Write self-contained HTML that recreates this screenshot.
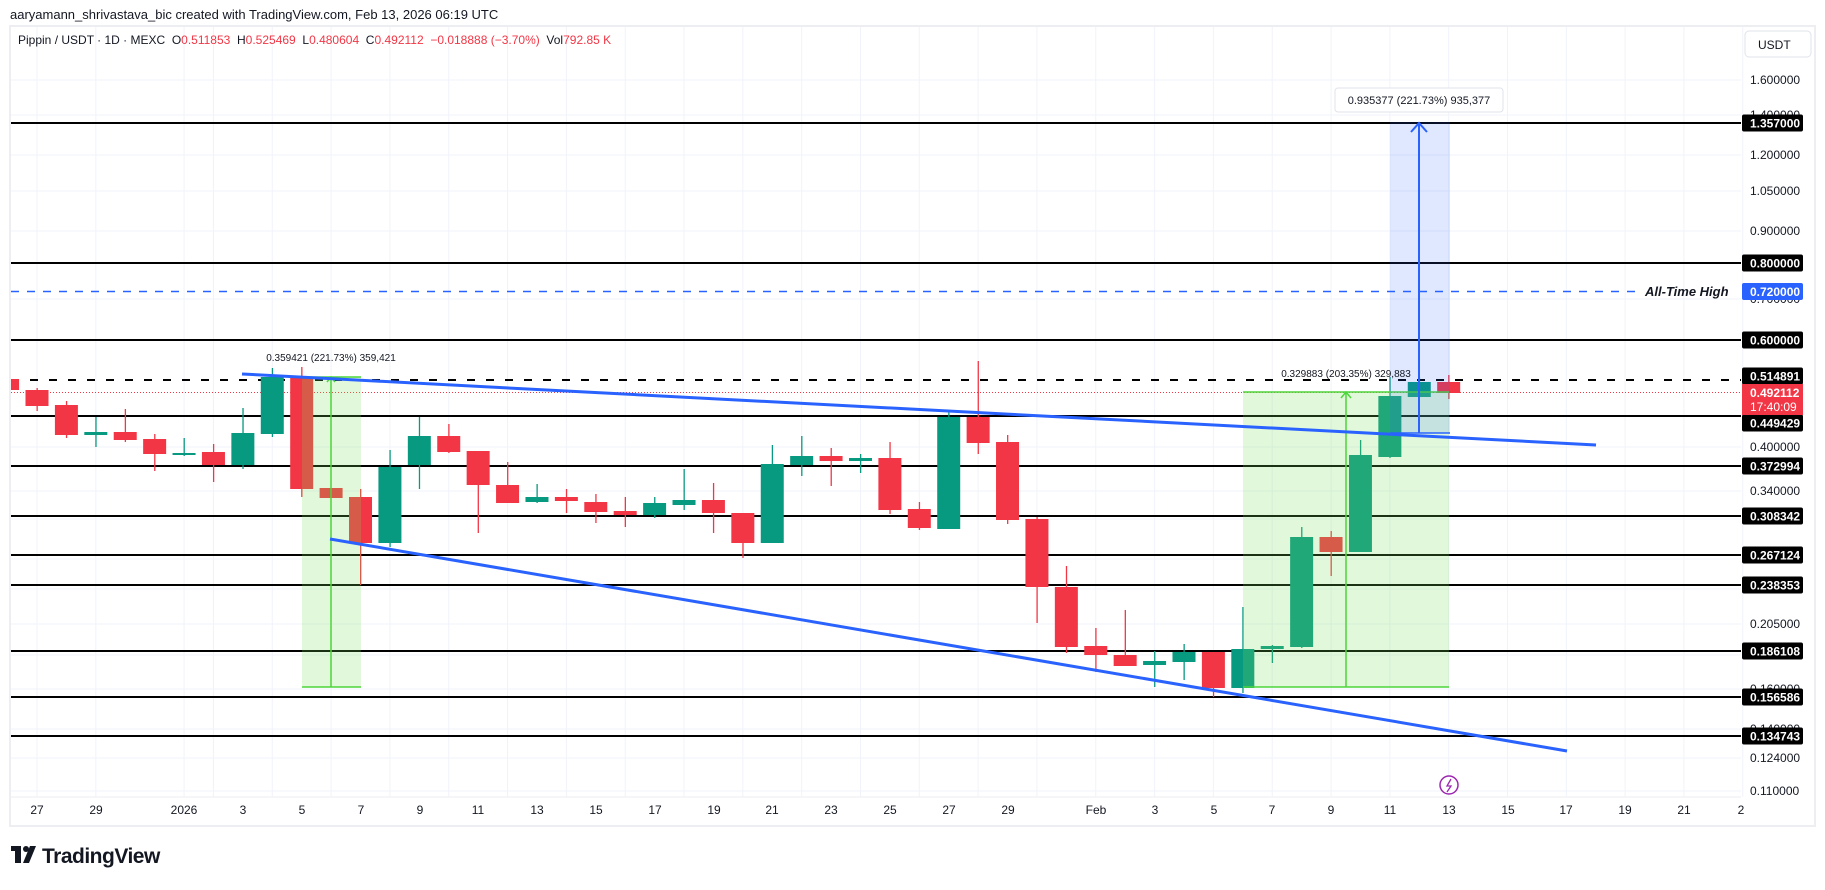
<!DOCTYPE html>
<html><head><meta charset="utf-8"><style>
html,body{margin:0;padding:0;background:#fff;}
body{width:1825px;height:885px;overflow:hidden;font-family:"Liberation Sans",Arial,sans-serif;}
svg text{font-family:"Liberation Sans",Arial,sans-serif;}
</style></head><body>
<svg id="s" width="1825" height="885" xmlns="http://www.w3.org/2000/svg">
<rect width="1825" height="885" fill="#fff"/>
<text x="10" y="19" font-size="13" fill="#131722">aaryamann_shrivastava_bic created with TradingView.com, Feb 13, 2026 06:19 UTC</text>
<rect x="10" y="26" width="1805" height="800" fill="#fff" stroke="#eceef2" stroke-width="2"/>
<defs><clipPath id="cp"><rect x="11" y="27" width="1730" height="770"/></clipPath></defs>
<g id="grid" stroke="#f0f3fa" stroke-width="1"></g>
<g clip-path="url(#cp)">
<g id="hl"></g>
<g id="candles"></g>
<!-- ranges -->
<rect x="302" y="377" width="59" height="310" fill="rgba(120,225,90,0.22)"/>
<line x1="302" y1="687" x2="361" y2="687" stroke="#4cd63a" stroke-width="1.5"/>
<line x1="302" y1="377" x2="361" y2="377" stroke="#4cd63a" stroke-width="1.5"/>
<line x1="331" y1="377" x2="331" y2="687" stroke="#4cd63a" stroke-width="1.5"/>
<polyline points="327,382 331,377 335,382" fill="none" stroke="#4cd63a" stroke-width="1.5"/>
<rect x="1243" y="392" width="206" height="295" fill="rgba(120,225,90,0.22)"/>
<line x1="1243" y1="687" x2="1449" y2="687" stroke="#4cd63a" stroke-width="1.5"/>
<line x1="1243" y1="392" x2="1449" y2="392" stroke="#4cd63a" stroke-width="1.5"/>
<line x1="1346" y1="392" x2="1346" y2="687" stroke="#4cd63a" stroke-width="1.5"/>
<polyline points="1341,398 1346,392 1351,398" fill="none" stroke="#4cd63a" stroke-width="1.5"/>
<rect x="1390" y="122" width="60" height="311" fill="rgba(41,98,255,0.15)"/>
<line x1="1390" y1="433" x2="1450" y2="433" stroke="#2962ff" stroke-width="1.5"/>
<line x1="1419" y1="433" x2="1419" y2="123" stroke="#2962ff" stroke-width="2"/>
<polyline points="1411,132 1419,123 1427,132" fill="none" stroke="#2962ff" stroke-width="2"/>
<!-- trend lines -->
<line x1="242" y1="374" x2="1596" y2="445" stroke="#2962ff" stroke-width="3"/>
<line x1="330" y1="539" x2="1567" y2="751" stroke="#2962ff" stroke-width="3"/>
</g>
<text x="331" y="361" font-size="10" fill="#131722" text-anchor="middle">0.359421 (221.73%) 359,421</text>
<text x="1346" y="377" font-size="10" fill="#131722" text-anchor="middle">0.329883 (203.35%) 329,883</text>
<rect x="1335" y="88" width="168" height="24" rx="3" fill="#fff" stroke="#e0e3eb"/>
<text x="1419" y="104" font-size="11" fill="#131722" text-anchor="middle">0.935377 (221.73%) 935,377</text>
<text x="1645" y="296" font-size="13" font-style="italic" font-weight="bold" fill="#131722">All-Time High</text>
<!-- legend -->
<text x="18" y="44" font-size="12" fill="#131722">Pippin / USDT · 1D · MEXC&#160;&#160;O<tspan fill="#f23645">0.511853</tspan>&#160;&#160;H<tspan fill="#f23645">0.525469</tspan>&#160;&#160;L<tspan fill="#f23645">0.480604</tspan>&#160;&#160;C<tspan fill="#f23645">0.492112&#160;&#160;−0.018888 (−3.70%)</tspan>&#160;&#160;Vol<tspan fill="#f23645">792.85 K</tspan></text>
<!-- price axis -->
<rect x="1745" y="31" width="66" height="26" rx="4" fill="#fff" stroke="#e0e3eb"/>
<text x="1758" y="49" font-size="12" fill="#131722">USDT</text>
<g font-size="12" fill="#131722">
<text x="1750" y="84">1.600000</text>
<text x="1750" y="119">1.400000</text>
<text x="1750" y="159">1.200000</text>
<text x="1750" y="195">1.050000</text>
<text x="1750" y="235">0.900000</text>
<text x="1750" y="303">0.700000</text>
<text x="1750" y="451">0.400000</text>
<text x="1750" y="495">0.340000</text>
<text x="1750" y="523">0.300000</text>
<text x="1750" y="563">0.260000</text>
<text x="1750" y="593">0.230000</text>
<text x="1750" y="628">0.205000</text>
<text x="1750" y="659">0.180000</text>
<text x="1750" y="693">0.160000</text>
<text x="1750" y="733">0.140000</text>
<text x="1750" y="762">0.124000</text>
<text x="1750" y="795">0.110000</text>
</g>
<g id="boxes" font-size="12" font-weight="bold" fill="#fff"></g>
<!-- date axis -->
<g font-size="12" fill="#131722" text-anchor="middle">
<text x="37" y="814">27</text><text x="96" y="814">29</text><text x="184" y="814">2026</text>
<text x="243" y="814">3</text><text x="302" y="814">5</text><text x="361" y="814">7</text>
<text x="420" y="814">9</text><text x="478" y="814">11</text><text x="537" y="814">13</text>
<text x="596" y="814">15</text><text x="655" y="814">17</text><text x="714" y="814">19</text>
<text x="772" y="814">21</text><text x="831" y="814">23</text><text x="890" y="814">25</text>
<text x="949" y="814">27</text><text x="1008" y="814">29</text><text x="1096" y="814">Feb</text>
<text x="1155" y="814">3</text><text x="1214" y="814">5</text><text x="1272" y="814">7</text>
<text x="1331" y="814">9</text><text x="1390" y="814">11</text><text x="1449" y="814">13</text>
<text x="1508" y="814">15</text><text x="1566" y="814">17</text><text x="1625" y="814">19</text>
<text x="1684" y="814">21</text><text x="1741" y="814">2</text>
</g>
<circle cx="1449" cy="785" r="9" fill="#fff" stroke="#9c27b0" stroke-width="1.5"/>
<polyline points="1451,779 1447,786 1451,786 1447,792" fill="none" stroke="#9c27b0" stroke-width="1.3"/>
<!-- logo -->
<g fill="#131722"><rect x="11" y="846" width="10" height="5"/><rect x="15" y="846" width="6" height="17"/><circle cx="26" cy="849" r="3"/><polygon points="30,846 36,846 29,863 23,863"/></g>
<text x="42" y="863" font-size="21" font-weight="bold" fill="#131722" letter-spacing="-0.5">TradingView</text>
</svg>
<script>
var NS="http://www.w3.org/2000/svg";
function el(p,t,a){var e=document.createElementNS(NS,t);for(var k in a)e.setAttribute(k,a[k]);p.appendChild(e);return e;}
function X(d){return 37+29.41*d;}
var grid=document.getElementById('grid');
for(var d=0;d<=58;d+=2){var x=X(d);if(d==4)x=X(5);el(grid,'line',{x1:x,y1:27,x2:x,y2:797});}
[80,115,155,191,231,299,447,491,519,559,589,624,655,689,729,758,791].forEach(function(y){el(grid,'line',{x1:11,y1:y,x2:1741,y2:y});});
el(grid,'line',{x1:11,y1:797,x2:1741,y2:797,stroke:'#eceef2'});
var hl=document.getElementById('hl');
[123,263,340,416,466,516,555,585,651,697,736].forEach(function(y){el(hl,'line',{x1:11,y1:y,x2:1741,y2:y,stroke:'#000','stroke-width':2});});
el(hl,'line',{x1:11,y1:380,x2:1741,y2:380,stroke:'#000','stroke-width':2,'stroke-dasharray':'8 11'});
el(hl,'line',{x1:11,y1:291.5,x2:1640,y2:291.5,stroke:'#2962ff','stroke-width':1.5,'stroke-dasharray':'8 8'});
el(hl,'line',{x1:11,y1:392.5,x2:1741,y2:392.5,stroke:'#f23645','stroke-width':1,'stroke-dasharray':'1 2'});
var C=[[-1,'r',379,390,379,390],[0,'r',390,406,388,411],[1,'r',405,435,401,438],[2,'g',432,435,417,447],[3,'r',432,440,409,442],[4,'r',439,454,434,471],[5,'g',453,454,438,456],[6,'r',452,465,444,482],[7,'g',433,465,408,469],[8,'g',377,434,368,437],[9,'r',377,489,367,497],[10,'r',488,498,488,498],[11,'r',497,543,489,585],[12,'g',467,543,450,547],[13,'g',436,465,417,489],[14,'r',436,452,424,453],[15,'r',451,485,451,533],[16,'r',485,503,462,503],[17,'g',497,502,484,503],[18,'r',497,501,489,513],[19,'r',502,512,494,523],[20,'r',511,515,497,527],[21,'g',503,515,497,518],[22,'g',500,505,469,510],[23,'r',500,513,483,533],[24,'r',513,543,513,558],[25,'g',464,543,445,543],[26,'g',456,465,436,476],[27,'r',456,461,448,486],[28,'g',458,461,454,473],[29,'r',458,510,442,514],[30,'r',509,528,502,530],[31,'g',417,529,412,529],[32,'r',417,443,361,454],[33,'r',442,520,435,524],[34,'r',519,587,517,623],[35,'r',587,647,566,653],[36,'r',646,655,628,672],[37,'r',655,666,610,666],[38,'g',661,665,651,687],[39,'g',652,662,644,680],[40,'r',652,688,652,697],[41,'g',649,688,607,693],[42,'g',646,649,645,663],[43,'g',537,647,527,648],[44,'r',537,552,531,576],[45,'g',455,552,440,552],[46,'g',396,457,377,458],[47,'g',382,397,377,398],[48,'r',382,393,375,399]];
var cg=document.getElementById('candles');
C.forEach(function(c){var x=X(c[0]),col=c[1]=='g'?'#089981':'#f23645';
el(cg,'rect',{x:x-0.5,y:c[4],width:1.3,height:Math.max(1,c[5]-c[4]),fill:col});
el(cg,'rect',{x:x-11.5,y:c[2],width:23,height:Math.max(2,c[3]-c[2]),fill:col});});
var B=[[123,'1.357000','#000'],[263,'0.800000','#000'],[291.5,'0.720000','#2962ff'],[340,'0.600000','#000'],[376,'0.514891','#000'],[416,'0.449429','#000'],[466,'0.372994','#000'],[516,'0.308342','#000'],[555,'0.267124','#000'],[585,'0.238353','#000'],[651,'0.186108','#000'],[697,'0.156586','#000'],[736,'0.134743','#000']];
var bx=document.getElementById('boxes');
B.forEach(function(b){var y=b[0];if(b[1]=='0.449429')y=423;
el(bx,'rect',{x:1742,y:y-8.5,width:61,height:17,rx:2,fill:b[2]});
var t=el(bx,'text',{x:1750,y:y+4.5});t.textContent=b[1];});
el(bx,'rect',{x:1742,y:384,width:61,height:31,fill:'#f23645'});
var t1=el(bx,'text',{x:1750,y:397});t1.textContent='0.492112';
var t2=el(bx,'text',{x:1750,y:411,'font-weight':'normal'});t2.textContent='17:40:09';
</script>
</body></html>
